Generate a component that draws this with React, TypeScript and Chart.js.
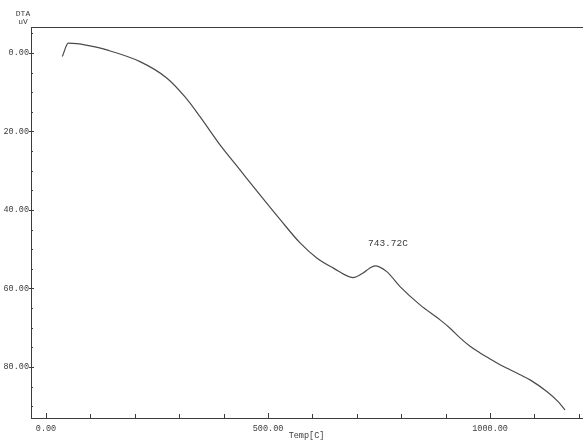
import React, { useEffect, useRef } from 'react';
import { Chart, registerables } from 'chart.js';

Chart.register(...registerables);

// Temperature (°C) and DTA signal (uV)
const tempC = [
  36.7, 50.2, 69.1, 99.1, 136.7, 211.7, 271.8, 313.1, 346.8, 391.9, 436.9, 481.9,
  527.0, 572.1, 609.7, 646.4, 691.4, 714.0, 728.0, 741.0, 767.3, 797.3, 842.3, 887.4,
  909.9, 932.4, 954.9, 977.5, 1000.0, 1022.5, 1045.0, 1067.6, 1090.1, 1127.7, 1153.2, 1168.9,
];
const dtaUV = [
  0.94, -2.47, -2.37, -1.78, -0.76, 2.22, 6.37, 11.2, 16.22, 23.43, 29.8, 36.17,
  42.41, 48.4, 52.22, 54.76, 57.23, 56.04, 54.9, 54.25, 55.71, 59.53, 64.19, 68.01,
  70.13, 72.59, 74.72, 76.42, 77.95, 79.43, 80.71, 81.98, 83.29, 86.27, 88.82, 90.93,
];

const xMin = -33.8;
const xMax = 1207;
const yMin = -6.6;
const yMax = 93.0;

const xTickValues = [0, 100, 200, 300, 400, 500, 600, 700, 800, 900, 1000, 1100, 1200];
const xLabelValues = [0, 500, 1000];
const yTickValues = [-5, 0, 5, 10, 15, 20, 25, 30, 35, 40, 45, 50, 55, 60, 65, 70, 75, 80, 85, 90];
const yLabelValues = [0, 20, 40, 60, 80];

const peakLabel = '743.72C';
const peakLabelTemp = 770;
const peakLabelValue = 48.6;
const xTitle = 'Temp[C]';
const yTitleLines = ['DTA', 'uV'];

const FONT = "'Liberation Mono', 'DejaVu Sans Mono', monospace";
const INK = '#3c3c3c';

const decor = {
  id: 'decor',
  afterDraw(chart: any) {
    const { ctx, chartArea: a, scales } = chart;
    const x = scales.x;
    const y = scales.y;
    ctx.save();
    ctx.strokeStyle = INK;
    ctx.lineWidth = 1;
    // top frame line
    ctx.beginPath();
    ctx.moveTo(a.left, Math.round(a.top) + 0.5);
    ctx.lineTo(chart.width, Math.round(a.top) + 0.5);
    ctx.stroke();
    // y tick marks
    for (const v of yTickValues) {
      const py = Math.round(y.getPixelForValue(v)) + 0.5;
      const major = yLabelValues.includes(v);
      ctx.beginPath();
      ctx.moveTo(a.left - (major ? 2 : 0), py);
      ctx.lineTo(a.left + (major ? 3 : 2), py);
      ctx.stroke();
    }
    // x tick marks
    for (const v of xTickValues) {
      const px = Math.round(x.getPixelForValue(v)) + 0.5;
      const major = xLabelValues.includes(v);
      ctx.beginPath();
      ctx.moveTo(px, a.bottom);
      ctx.lineTo(px, a.bottom - (major ? 5 : 4));
      ctx.stroke();
    }
    // peak annotation
    ctx.fillStyle = INK;
    ctx.textAlign = 'center';
    ctx.textBaseline = 'middle';
    ctx.font = `9.5px ${FONT}`;
    ctx.fillText(peakLabel, x.getPixelForValue(peakLabelTemp), y.getPixelForValue(peakLabelValue));
    // y axis caption
    ctx.font = `8px ${FONT}`;
    ctx.fillText(yTitleLines[0], 23, 14);
    ctx.fillText(yTitleLines[1], 23, 22);
    ctx.restore();
  },
};

export default function App() {
  const ref = useRef<HTMLCanvasElement>(null);

  useEffect(() => {
    document.body.style.margin = '0';
    const canvas = ref.current;
    if (!canvas) return;
    const chart = new Chart(canvas, {
      type: 'line',
      data: {
        datasets: [
          {
            data: tempC.map((t, i) => ({ x: t, y: dtaUV[i] })),
            borderColor: '#4a4a4a',
            borderWidth: 1.2,
            pointRadius: 0,
            fill: false,
            cubicInterpolationMode: 'monotone',
          },
        ],
      },
      options: {
        responsive: false,
        animation: false,
        devicePixelRatio: 1,
        layout: { padding: { top: 27, right: 1, left: 0, bottom: 0 } },
        plugins: {
          legend: { display: false },
          tooltip: { enabled: false },
        },
        scales: {
          x: {
            type: 'linear',
            min: xMin,
            max: xMax,
            afterBuildTicks: (s: any) => {
              s.ticks = xLabelValues.map((v) => ({ value: v }));
            },
            afterFit: (s: any) => {
              s.height = 23;
            },
            grid: { display: false, drawTicks: false },
            border: { display: true, color: INK, width: 1 },
            ticks: {
              autoSkip: false,
              maxRotation: 0,
              padding: 6,
              color: INK,
              font: { family: FONT, size: 8.5 },
              callback: (v: any) => Number(v).toFixed(2),
            },
            title: {
              display: true,
              text: xTitle,
              color: INK,
              padding: { top: 0, bottom: 0 },
              font: { family: FONT, size: 8.5 },
            },
          },
          y: {
            type: 'linear',
            reverse: true,
            min: yMin,
            max: yMax,
            afterBuildTicks: (s: any) => {
              s.ticks = yLabelValues.map((v) => ({ value: v }));
            },
            afterFit: (s: any) => {
              s.width = 31;
            },
            grid: { display: false, drawTicks: false },
            border: { display: true, color: INK, width: 1 },
            ticks: {
              autoSkip: false,
              padding: 2,
              color: INK,
              font: { family: FONT, size: 8.5 },
              callback: (v: any) => Number(v).toFixed(2),
            },
          },
        },
      },
      plugins: [decor],
    });
    return () => chart.destroy();
  }, []);

  return (
    <div style={{ position: 'absolute', left: 0, top: 0, width: 583, height: 441, background: '#fff' }}>
      <canvas ref={ref} width={583} height={441} style={{ display: 'block', width: 583, height: 441 }} />
    </div>
  );
}
